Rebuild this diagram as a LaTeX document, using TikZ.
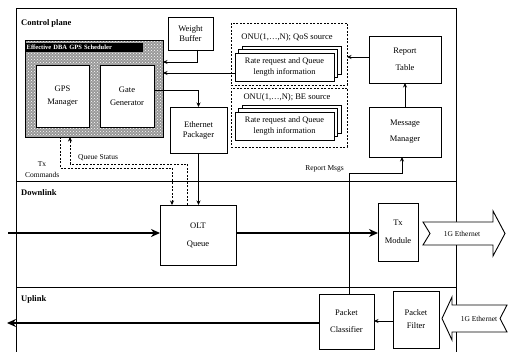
\documentclass[tikz,border=0pt]{standalone}
\usepackage{fontspec}
\setmainfont{Liberation Serif}
\usetikzlibrary{patterns,arrows.meta}
\begin{document}
\begin{tikzpicture}[x=1pt,y=-1pt,
  box/.style={draw, line width=0.9pt, fill=white, inner sep=0pt, outer sep=0pt, align=center, font=\fontsize{8.5}{10}\selectfont},
  card/.style={draw, line width=0.9pt, fill=white},
  dbox/.style={draw, line width=0.7pt, dash pattern=on 2pt off 1.5pt, inner sep=0pt, outer sep=0pt},
  arr/.style={-{Stealth[length=4.5pt,width=4pt]}, line width=0.8pt},
  bigarr/.style={-{Stealth[length=9pt,width=8pt]}, line width=1.5pt},
  dline/.style={dash pattern=on 2pt off 1.5pt, line width=0.6pt},
  sect/.style={font=\fontsize{8.5}{10}\selectfont\bfseries, anchor=west, inner sep=0pt},
  lbl/.style={font=\fontsize{7.5}{9}\selectfont, inner sep=0pt},
  earrow/.style={draw, line width=0.9pt, fill=white}
]
\useasboundingbox (0,0) rectangle (511,352);

% frame and dividers
\draw[line width=0.9pt] (16,352) -- (16,8) -- (456,8) -- (456,352);
\draw[line width=0.9pt] (16,181) -- (456,181);
\draw[line width=0.9pt] (16,287) -- (456,287);

\node[sect] (cp) at (21,23) {Control plane};
\node[sect] (dl) at (21,193) {Downlink};
\node[sect] (ul) at (21,299) {Uplink};

% scheduler
\node[draw, line width=0.9pt, preaction={fill=black!40}, pattern=crosshatch dots, pattern color=white, minimum width=138pt, minimum height=97pt, inner sep=0pt, outer sep=0pt] (sched) at (94,88.5) {};
\node[fill=black, text=white, font=\fontsize{6.5}{7}\selectfont\bfseries, anchor=north west, inner sep=1pt, minimum height=9pt, align=left, text width=115pt] (schedtitle) at (25.5,42.5) {Effective DBA GPS Scheduler};
\node[box, minimum width=53pt, minimum height=62pt] (gps) at (62.5,96) {GPS\\[3pt]Manager};
\node[box, minimum width=54pt, minimum height=62pt] (gate) at (127,96) {Gate\\[3pt]Generator};

\node[box, minimum width=45pt, minimum height=33pt] (wb) at (190.5,33.5) {Weight\\Buffer};
\node[box, minimum width=57pt, minimum height=46pt] (eth) at (198.5,130) {Ethernet\\Packager};

% QoS / BE dashed boxes
\node[dbox, minimum width=116pt, minimum height=62pt] (qos) at (289,54) {};
\node[dbox, minimum width=116pt, minimum height=59pt] (be) at (289,117.5) {};
\node[lbl, font=\fontsize{8.5}{9}\selectfont] (qostxt) at (287,37) {ONU(1,\ldots,N); QoS source};
\node[lbl, font=\fontsize{8.5}{9}\selectfont] (betxt) at (287,97.5) {ONU(1,\ldots,N); BE source};
\draw[card] (242,46) rectangle (341,74);
\draw[card] (238.5,49.5) rectangle (337.5,77.5);
\node[box, minimum width=99pt, minimum height=28pt, font=\fontsize{8.3}{10.5}\selectfont] (qosf) at (284.5,67) {Rate request and Queue\\length information};
\draw[card] (242,105) rectangle (341,133);
\draw[card] (238.5,108.5) rectangle (337.5,136.5);
\node[box, minimum width=99pt, minimum height=28pt, font=\fontsize{8.3}{10.5}\selectfont] (bef) at (284.5,126) {Rate request and Queue\\length information};

\node[box, minimum width=72pt, minimum height=47pt] (rt) at (405,59.5) {Report\\[7pt]Table};
\node[box, minimum width=72pt, minimum height=50pt] (mm) at (405,132) {Message\\[6pt]Manager};

% downlink
\node[box, minimum width=76pt, minimum height=60pt] (olt) at (198,235) {OLT\\[8pt]Queue};
\node[box, minimum width=40pt, minimum height=58pt] (tx) at (398,232) {Tx\\[8pt]Module};

% uplink
\node[box, minimum width=55pt, minimum height=55pt] (pc) at (346.5,321.5) {Packet\\[7pt]Classifier};
\node[box, minimum width=46pt, minimum height=57pt] (pf) at (416,319.5) {Packet\\[3pt]Filter};

% 1G Ethernet block arrows
\draw[earrow] (423,222) -- (493,222) -- (493,211) -- (505,233.5) -- (493,256) -- (493,245) -- (423,245) -- (430,233.5) -- cycle;
\node[lbl, font=\fontsize{7.5}{9}\selectfont] (e1) at (462,233.5) {1G Ethernet};
\draw[earrow] (442,318.5) -- (452,297) -- (452,305) -- (507,305) -- (500,318.5) -- (507,332) -- (452,332) -- (452,340) -- cycle;
\node[lbl, font=\fontsize{7.5}{9}\selectfont] (e2) at (479,318.5) {1G Ethernet};

% control connectors
\draw[arr] ([xshift=6.5pt]wb.south) |- (sched.east |- 0,62);
\draw[arr] (qosf.west |- 0,73) -- (sched.east |- 0,73);
\draw[arr] (gate.east |- 0,90) -| (eth.north);
\draw[arr] (rt.west |- 0,57) -- (qos.east |- 0,57);
\draw[arr] (mm.north) -- (rt.south);
\draw[arr] (eth.south) -- (olt.north -| eth.south);

% dashed Tx commands / queue status
\draw[dline, -{Stealth[length=4.5pt,width=4pt]}] (sched.south -| 60,0) |- (172,168) -- (olt.north -| 172,0);
\draw[dline, -{Stealth[length=4.5pt,width=4pt]}] (olt.north -| 187,0) |- (70,164) -- (sched.south -| 70,0);
\node[lbl] (txl) at (42,164) {Tx};
\node[lbl, anchor=west] (cmdl) at (25,175) {Commands};
\node[lbl, anchor=west] (qsl) at (78,158) {Queue Status};

% report msgs
\coordinate (rmk) at (349,173);
\draw[arr] (pc.north -| rmk) -- (rmk) -| ([xshift=-3pt]mm.south);
\node[lbl, anchor=east] (rml) at (344,169) {Report Msgs};

% data path
\coordinate (din) at (8,233);
\draw[bigarr] (din) -- (olt.west |- din);
\draw[bigarr] (olt.east |- din) -- (tx.west |- din);
\draw[arr] (pf.west |- 0,321) -- (pc.east |- 0,321);
\coordinate (uout) at (7,323);
\draw[bigarr] (pc.west |- uout) -- (uout);
\end{tikzpicture}
\end{document}
